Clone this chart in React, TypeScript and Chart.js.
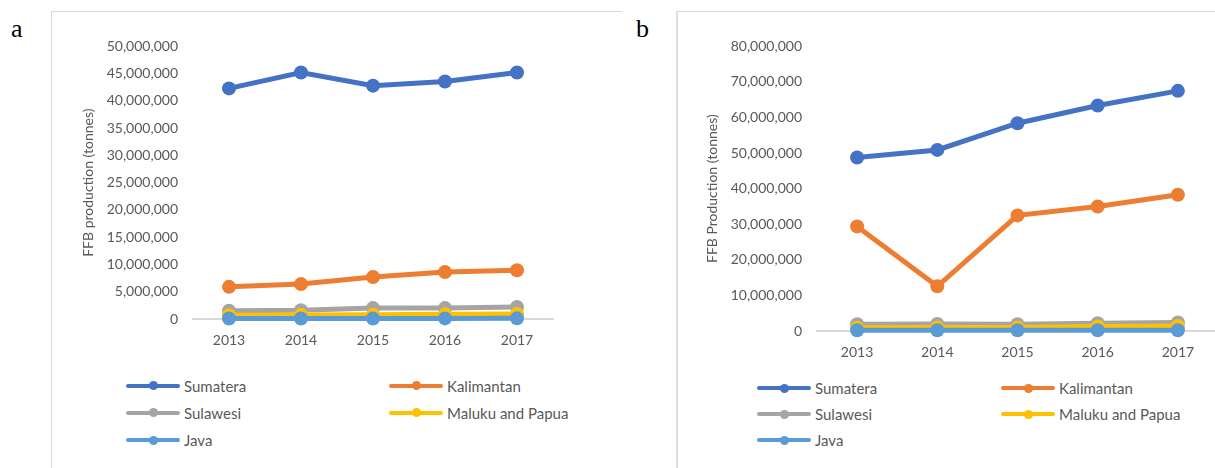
import React, { useEffect, useRef } from "react";
import { Chart, registerables } from "chart.js";
Chart.register(...registerables);

// ---- data ----
const years = ["2013", "2014", "2015", "2016", "2017"];
const seriesNames = ["Sumatera", "Kalimantan", "Sulawesi", "Maluku and Papua", "Java"];
const seriesColors = ["#4472C4", "#ED7D31", "#A5A5A5", "#FFC000", "#5B9BD5"];

// Panel a: FFB production (tonnes)
const aSumatera = [42300000, 45200000, 42800000, 43550000, 45200000];
const aKalimantan = [5900000, 6400000, 7700000, 8600000, 8950000];
const aSulawesi = [1500000, 1600000, 2000000, 2000000, 2200000];
const aMalukuPapua = [700000, 750000, 800000, 850000, 900000];
const aJava = [90000, 100000, 100000, 110000, 120000];

// Panel b: FFB Production (tonnes)
const bSumatera = [48750000, 50900000, 58400000, 63400000, 67500000];
const bKalimantan = [29400000, 12550000, 32500000, 35000000, 38300000];
const bSulawesi = [1900000, 2000000, 1900000, 2200000, 2400000];
const bMalukuPapua = [900000, 1000000, 1000000, 1300000, 1400000];
const bJava = [200000, 200000, 200000, 200000, 200000];

const aTitle = "FFB production (tonnes)";
const bTitle = "FFB Production (tonnes)";
const aMax = 50000000;
const aStep = 5000000;
const bMax = 80000000;
const bStep = 10000000;

const FONT = "Lato, 'Open Sans', sans-serif";
const TEXT = "#595959";

type PanelProps = {
  left: number;
  top: number;
  width: number;
  height: number;
  padTop: number;
  padRight: number;
  yAxisWidth: number;
  xAxisHeight: number;
  titlePad: number;
  yMax: number;
  yStep: number;
  title: string;
  series: number[][];
};

function LineChart(p: PanelProps) {
  const ref = useRef<HTMLCanvasElement | null>(null);
  useEffect(() => {
    if (!ref.current) return;
    const chart = new Chart(ref.current, {
      type: "line",
      data: {
        labels: years,
        datasets: p.series.map((vals, i) => ({
          label: seriesNames[i],
          data: vals,
          borderColor: seriesColors[i],
          backgroundColor: seriesColors[i],
          pointBackgroundColor: seriesColors[i],
          pointBorderColor: seriesColors[i],
          pointBorderWidth: 0,
          pointRadius: 7,
          borderWidth: 5,
          tension: 0,
          clip: false as any,
          order: seriesNames.length - 1 - i,
        })),
      },
      options: {
        responsive: false,
        animation: false,
        devicePixelRatio: 1,
        layout: { autoPadding: false, padding: { top: p.padTop, right: p.padRight, left: 0, bottom: 0 } },
        plugins: {
          legend: { display: false },
          tooltip: { enabled: false },
        },
        scales: {
          x: {
            offset: true,
            grid: { display: false, drawTicks: false },
            border: { display: true, color: "#d9d9d9", width: 2 },
            ticks: { color: TEXT, font: { family: FONT, size: 14 }, padding: 13 },
            afterFit: (s: any) => {
              s.height = p.xAxisHeight;
            },
          },
          y: {
            min: 0,
            max: p.yMax,
            grid: { display: false, drawTicks: false },
            border: { display: false },
            ticks: {
              stepSize: p.yStep,
              color: TEXT,
              font: { family: FONT, size: 14 },
              padding: 15,
              callback: (v: any) => Number(v).toLocaleString("en-US"),
            },
            title: {
              display: true,
              text: p.title,
              color: TEXT,
              font: { family: FONT, size: 14 },
              padding: { top: p.titlePad, bottom: 0 },
            },
            afterFit: (s: any) => {
              s.width = p.yAxisWidth;
            },
          },
        },
      },
    });
    return () => chart.destroy();
  }, []);
  return (
    <canvas
      ref={ref}
      width={p.width}
      height={p.height}
      style={{ position: "absolute", left: p.left, top: p.top, width: p.width, height: p.height }}
    />
  );
}

function Legend({ cols, rows }: { cols: number[]; rows: number[] }) {
  return (
    <>
      {seriesNames.map((name, i) => {
        const x = cols[i % 2];
        const y = rows[Math.floor(i / 2)];
        return (
          <div key={name} style={{ position: "absolute", left: x, top: y - 10, height: 20, display: "flex", alignItems: "center" }}>
            <div style={{ position: "relative", width: 54, height: 4, borderRadius: 2, background: seriesColors[i] }}>
              <div
                style={{
                  position: "absolute",
                  left: 27 - 4.5,
                  top: 2 - 4.5,
                  width: 9,
                  height: 9,
                  borderRadius: "50%",
                  background: seriesColors[i],
                }}
              />
            </div>
            <span style={{ marginLeft: 4, fontFamily: FONT, fontSize: 15, color: TEXT, whiteSpace: "nowrap" }}>{name}</span>
          </div>
        );
      })}
    </>
  );
}

export default function App() {
  useEffect(() => {
    document.body.style.margin = "0";
    document.body.style.overflow = "hidden";
  }, []);
  return (
    <div style={{ position: "relative", width: 1215, height: 468, overflow: "hidden", background: "#fff" }}>
      {/* panel frames */}
      <div style={{ position: "absolute", left: 51, top: 11, width: 570, height: 470, borderLeft: "1px solid #d9d9d9", borderTop: "1px solid #d9d9d9" }} />
      <div style={{ position: "absolute", left: 676, top: 11, width: 560, height: 470, borderLeft: "2px solid #dedede", borderTop: "1px solid #d9d9d9" }} />
      <span style={{ position: "absolute", left: 11, top: 16, fontFamily: "'Liberation Serif', 'Times New Roman', serif", fontSize: 26, lineHeight: "26px", color: "#000" }}>a</span>
      <span style={{ position: "absolute", left: 636, top: 16, fontFamily: "'Liberation Serif', 'Times New Roman', serif", fontSize: 26, lineHeight: "26px", color: "#000" }}>b</span>

      <LineChart
        left={60}
        top={23}
        width={540}
        height={337}
        padTop={0}
        padRight={47}
        yAxisWidth={133}
        xAxisHeight={41}
        titlePad={20}
        yMax={aMax}
        yStep={aStep}
        title={aTitle}
        series={[aSumatera, aKalimantan, aSulawesi, aMalukuPapua, aJava]}
      />
      <LineChart
        left={690}
        top={23}
        width={540}
        height={347}
        padTop={0}
        padRight={12}
        yAxisWidth={127}
        xAxisHeight={39}
        titlePad={14}
        yMax={bMax}
        yStep={bStep}
        title={bTitle}
        series={[bSumatera, bKalimantan, bSulawesi, bMalukuPapua, bJava]}
      />
      <Legend cols={[126, 389]} rows={[385.5, 412.7, 440]} />
      <Legend cols={[757, 1001]} rows={[388, 414, 440]} />
    </div>
  );
}
